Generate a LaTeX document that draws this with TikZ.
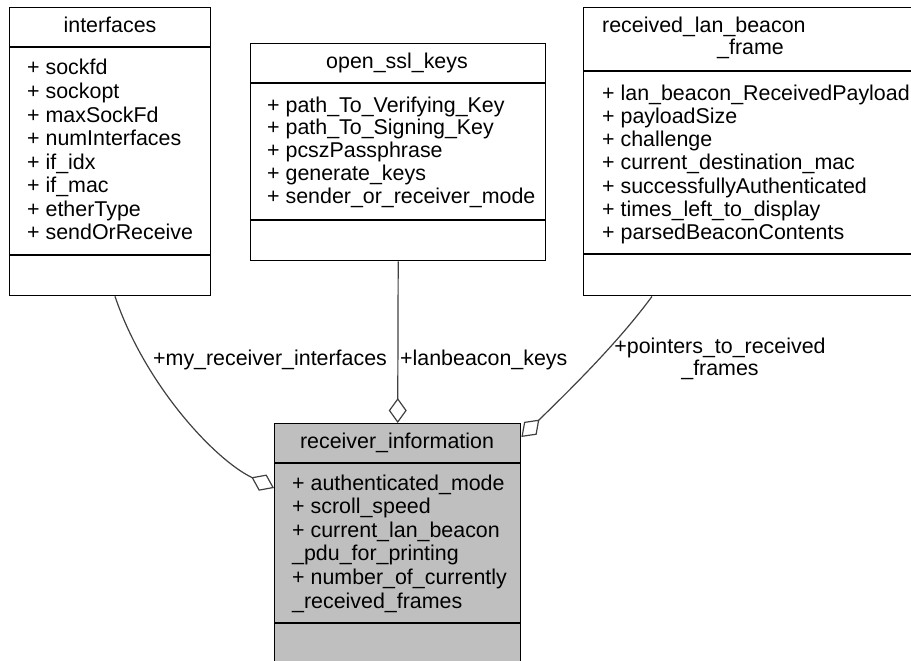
\documentclass[tikz,border=0pt]{standalone}
\usepackage{fontspec}
\setmainfont{Liberation Sans}
\usetikzlibrary{arrows.meta}
\definecolor{edgegray}{HTML}{404040}
\definecolor{boxgray}{HTML}{BFBFBF}
\begin{document}
\begin{tikzpicture}[x=1pt,y=-1pt,
  classbox/.style={draw=black, line width=1.4pt, rectangle, inner sep=0pt, anchor=north west},
  txt/.style={font=\fontsize{21.4}{23}\selectfont, inner sep=0pt, anchor=base west},
  hdr/.style={font=\fontsize{21.4}{23}\selectfont, inner sep=0pt, anchor=base},
  divider/.style={draw=black, line width=1.4pt},
  assoc/.style={draw=edgegray, line width=1.2pt, -{Diamond[open, length=25pt, width=18pt]}},
]
\useasboundingbox (0,0) rectangle (911,661);

% boxes
\node[classbox, fill=white, minimum width=201pt, minimum height=288pt] (iface) at (9,7) {};
\node[classbox, fill=white, minimum width=295pt, minimum height=217pt] (ssl) at (250,43) {};
\node[classbox, fill=white, minimum width=337pt, minimum height=288pt] (rlbf) at (583,7) {};
\node[classbox, fill=boxgray, minimum width=246pt, minimum height=242pt] (rinfo) at (274,423) {};

% dividers
\draw[divider] ([yshift=-40pt]iface.north west) -- ([yshift=-40pt]iface.north east);
\draw[divider] ([yshift=-248pt]iface.north west) -- ([yshift=-248pt]iface.north east);
\draw[divider] ([yshift=-40pt]ssl.north west) -- ([yshift=-40pt]ssl.north east);
\draw[divider] ([yshift=-177pt]ssl.north west) -- ([yshift=-177pt]ssl.north east);
\draw[divider] ([yshift=-64pt]rlbf.north west) -- ([yshift=-64pt]rlbf.north east);
\draw[divider] ([yshift=-247pt]rlbf.north west) -- ([yshift=-247pt]rlbf.north east);
\draw[divider] ([yshift=-40pt]rinfo.north west) -- ([yshift=-40pt]rinfo.north east);
\draw[divider] ([yshift=-200pt]rinfo.north west) -- ([yshift=-200pt]rinfo.north east);

% headers
\node[hdr] (iface-h) at (110,33) {interfaces};
\node[hdr] (ssl-h) at (397,69) {open\_ssl\_keys};
\node[txt] (rlbf-h1) at (602,33) {received\_lan\_beacon};
\node[txt] (rlbf-h2) at (717,55) {\_frame};
\node[hdr] (rinfo-h) at (397,448) {receiver\_information};

% attributes
\foreach \t [count=\i] in {+ sockfd, + sockopt, + maxSockFd, + numInterfaces, + if\_idx, + if\_mac, + etherType, + sendOrReceive}
  \node[txt] (iface-\i) at (27,{75+23.5*(\i-1)}) {\t};
\foreach \t [count=\i] in {+ path\_To\_Verifying\_Key, + path\_To\_Signing\_Key, + pcszPassphrase, + generate\_keys, + sender\_or\_receiver\_mode}
  \node[txt] (ssl-\i) at (267,{112+22.8*(\i-1)}) {\t};
\foreach \t [count=\i] in {+ lan\_beacon\_ReceivedPayload, + payloadSize, + challenge, + current\_destination\_mac, + successfullyAuthenticated, + times\_left\_to\_display, + parsedBeaconContents}
  \node[txt] (rlbf-\i) at (602,{100+23.3*(\i-1)}) {\t};
\foreach \t [count=\i] in {+ authenticated\_mode, + scroll\_speed, + current\_lan\_beacon, \_pdu\_for\_printing, + number\_of\_currently, \_received\_frames}
  \node[txt] (rinfo-\i) at (292,{490+23.6*(\i-1)}) {\t};

% connectors
\draw[assoc] ([xshift=106pt]iface.south west) .. controls (145,385) and (215,460) .. ([yshift=-65pt]rinfo.north west);
\draw[assoc] (ssl.south) -- (rinfo.north);
\draw[assoc] ([xshift=69pt]rlbf.south west) .. controls (620,340) and (575,385) .. ([yshift=-14pt]rinfo.north east);

% labels
\node[txt] (l1) at (153,365) {+my\_receiver\_interfaces};
\node[txt] (l2) at (400,365) {+lanbeacon\_keys};
\node[hdr] (l3a) at (720,353) {+pointers\_to\_received};
\node[hdr] (l3b) at (720,375) {\_frames};
\end{tikzpicture}
\end{document}
